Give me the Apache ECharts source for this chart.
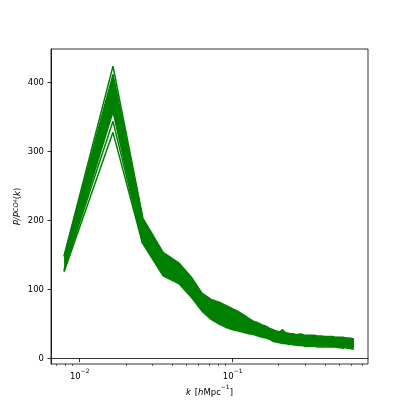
<!DOCTYPE html>
<html>
<head>
<meta charset="utf-8">
<script src="https://cdn.jsdelivr.net/npm/echarts@6/dist/echarts.min.js"></script>
<style>
  html, body { margin: 0; padding: 0; background: #fff; }
  #chart { width: 409px; height: 409px; }
</style>
</head>
<body>
<div id="chart"></div>
<script>
// wavenumbers k [h/Mpc]
var kValues = [0.0079, 0.0165, 0.0258, 0.0351, 0.0444, 0.0537, 0.0630, 0.0723, 0.0816, 0.0909,
  0.1002, 0.1095, 0.1188, 0.1281, 0.1374, 0.1467, 0.1560, 0.1653, 0.1746, 0.1839,
  0.1932, 0.2025, 0.2118, 0.2211, 0.2304, 0.2397, 0.2490, 0.2583, 0.2676, 0.2769,
  0.2862, 0.2955, 0.3048, 0.3141, 0.3234, 0.3327, 0.3420, 0.3513, 0.3606, 0.3699,
  0.3792, 0.3885, 0.3978, 0.4071, 0.4164, 0.4257, 0.4350, 0.4443, 0.4536, 0.4629,
  0.4722, 0.4815, 0.4908, 0.5001, 0.5094, 0.5187, 0.5280, 0.5373, 0.5466, 0.5559,
  0.5652, 0.5745, 0.5838, 0.5931, 0.6024, 0.6117, 0.6210];

// top of the bundle of realisations
var bandUpper = [148, 412, 204, 154, 139, 118, 95, 86, 82, 77,
  72, 68, 63, 58, 54, 52, 49, 47, 44, 42,
  40, 39, 42, 38, 37, 36, 36, 35, 35, 36,
  35, 34, 34, 33, 34, 33, 34, 33, 33, 32,
  33, 32, 32, 33, 32, 31, 32, 31, 32, 31,
  31, 32, 31, 30, 31, 30, 31, 30, 30, 31,
  30, 29, 30, 30, 29, 30, 29];

// bottom of the bundle
var bandLower = [127, 358, 167, 120, 109, 89, 69, 57, 50, 45,
  42, 40, 38, 36, 35, 33, 31, 30, 28, 25,
  24, 23, 22, 22, 21, 21, 20, 20, 19, 19,
  19, 18, 18, 18, 18, 17, 18, 17, 17, 18,
  17, 17, 17, 18, 17, 17, 17, 16, 17, 16,
  17, 16, 16, 17, 16, 16, 15, 16, 16, 15,
  15, 16, 15, 15, 14, 15, 14];

// a few realisations that stand apart around the peak (first three k)
var peakTop = [149, 424, 205];
var peakLow1 = [129, 344, 168];
var peakLow2 = [126, 328, 166];

var yTicks = [0, 100, 200, 300, 400];
var xMajor = [0.01, 0.1];
var xMinor = [0.007, 0.008, 0.009, 0.02, 0.03, 0.04, 0.05, 0.06, 0.07, 0.08, 0.09,
  0.2, 0.3, 0.4, 0.5, 0.6, 0.7];

var GREEN = '#008000';
var FONT = 'DejaVu Sans';

function pairs(vals) {
  return vals.map(function (v, i) { return [kValues[i], v]; });
}

function lineSeries(name, vals) {
  return {
    name: name,
    type: 'line',
    data: pairs(vals),
    symbol: 'none',
    lineStyle: { color: GREEN, width: 1.5 },
    itemStyle: { color: GREEN },
    z: 3
  };
}

// filled region between the bundle's lower and upper edges
function renderBand(params, api) {
  var pts = [];
  for (var i = 0; i < kValues.length; i++) {
    pts.push(api.coord([kValues[i], bandUpper[i]]));
  }
  for (var j = kValues.length - 1; j >= 0; j--) {
    pts.push(api.coord([kValues[j], bandLower[j]]));
  }
  return {
    type: 'polygon',
    shape: { points: pts },
    style: { fill: GREEN, stroke: null }
  };
}

var chart = echarts.init(document.getElementById('chart'), null, { renderer: 'canvas' });

var option = {
  animation: false,
  backgroundColor: '#fff',
  textStyle: { fontFamily: FONT },
  grid: {
    left: 51, right: 41, top: 49, bottom: 45,
    outerBoundsMode: 'none',
    show: true, borderColor: '#000', borderWidth: 0.8, backgroundColor: 'transparent'
  },
  xAxis: [{
    type: 'log',
    logBase: 10,
    min: 0.00649,
    max: 0.767,
    axisLine: { show: true, lineStyle: { color: '#000', width: 0.8 } },
    axisTick: { show: true, length: 3.5, lineStyle: { color: '#000', width: 0.8 }, customValues: xMajor },
    splitLine: { show: false },
    axisLabel: {
      customValues: xMajor,
      margin: 4,
      color: '#000',
      formatter: function (v) {
        var e = Math.round(Math.log10(v));
        return '{b|10}{s|\u2212' + Math.abs(e) + '}';
      },
      rich: {
        b: { fontSize: 8.5, fontFamily: FONT, color: '#000', lineHeight: 13, verticalAlign: 'bottom' },
        s: { fontSize: 6, fontFamily: FONT, color: '#000', lineHeight: 7, verticalAlign: 'top' }
      }
    },
    name: '{i|k} {r|[}{i|h}{r|Mpc}{s|\u22121}{r|]}',
    nameLocation: 'middle',
    nameMoveOverlap: false,
    nameGap: 20,
    nameTextStyle: {
      rich: {
        i: { fontSize: 8.5, fontFamily: FONT, fontStyle: 'italic', color: '#000', lineHeight: 13, verticalAlign: 'bottom' },
        r: { fontSize: 8.5, fontFamily: FONT, color: '#000', lineHeight: 13, verticalAlign: 'bottom' },
        s: { fontSize: 6, fontFamily: FONT, color: '#000', lineHeight: 7, verticalAlign: 'top' }
      }
    }
  }, {
    type: 'log',
    logBase: 10,
    min: 0.00649,
    max: 0.767,
    position: 'bottom',
    axisLine: { show: false },
    axisTick: { show: true, length: 2, lineStyle: { color: '#000', width: 0.6 }, customValues: xMinor },
    axisLabel: { show: false },
    splitLine: { show: false }
  }],
  yAxis: {
    type: 'value',
    min: -7.7,
    max: 448.8,
    axisLine: { show: true, lineStyle: { color: '#000', width: 0.8 } },
    axisTick: { show: true, length: 3.5, lineStyle: { color: '#000', width: 0.8 }, customValues: yTicks },
    splitLine: { show: false },
    axisLabel: {
      customValues: yTicks,
      margin: 7,
      color: '#000',
      fontSize: 8.5,
      fontFamily: FONT
    },
    name: '{i|P/P}{s|CO}{ss|4}{r|(}{i|k}{r|)}',
    nameLocation: 'middle',
    nameMoveOverlap: false,
    nameGap: 19,
    nameTextStyle: {
      rich: {
        i: { fontSize: 8.5, fontFamily: FONT, fontStyle: 'italic', color: '#000', lineHeight: 12, verticalAlign: 'top' },
        r: { fontSize: 8.5, fontFamily: FONT, color: '#000', lineHeight: 12, verticalAlign: 'top' },
        s: { fontSize: 6.5, fontFamily: FONT, fontStyle: 'italic', color: '#000', lineHeight: 16, verticalAlign: 'top' },
        ss: { fontSize: 5, fontFamily: FONT, color: '#000', lineHeight: 19, verticalAlign: 'top' }
      }
    }
  },
  series: [
    {
      name: 'band',
      type: 'custom',
      coordinateSystem: 'cartesian2d',
      data: [[kValues[0], bandLower[0]]],
      renderItem: renderBand,
      silent: true,
      z: 2
    },
    lineSeries('upper', bandUpper),
    lineSeries('lower', bandLower),
    lineSeries('peakTop', peakTop),
    lineSeries('peakLow1', peakLow1),
    lineSeries('peakLow2', peakLow2)
  ]
};

chart.setOption(option);
</script>
</body>
</html>
